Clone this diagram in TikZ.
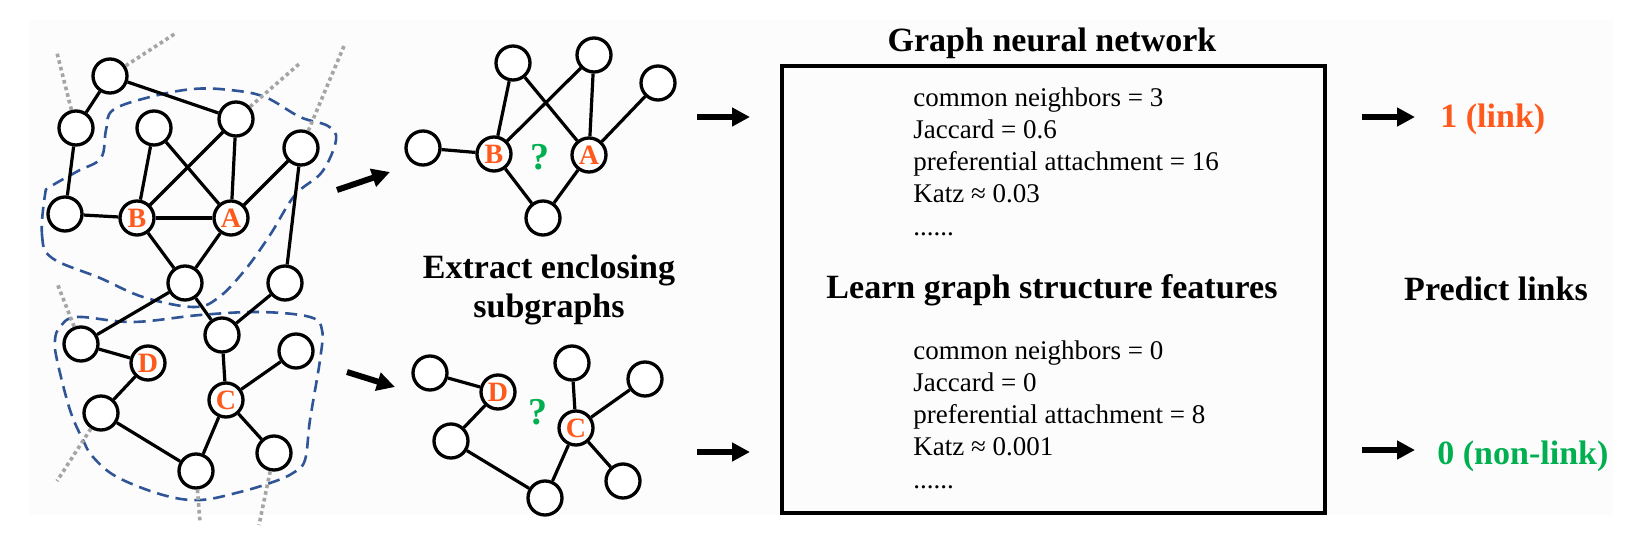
\documentclass[tikz,border=0pt]{standalone}
\usepackage{fontspec}
\setmainfont{Liberation Serif}
\usetikzlibrary{arrows.meta}
\definecolor{lorange}{RGB}{255,90,30}
\definecolor{lgreen}{RGB}{0,176,80}
\definecolor{hullblue}{RGB}{47,85,151}
\definecolor{dotgray}{RGB}{165,165,165}
\definecolor{bgtint}{RGB}{252,252,252}
\begin{document}
\begin{tikzpicture}[x=0.5pt,y=-0.5pt,
 vtx/.style={circle,draw=black,fill=white,line width=1.65pt,minimum size=17pt,inner sep=0pt,font=\fontsize{14}{14}\selectfont\bfseries,text=lorange},
 edge/.style={line width=1.6pt},
 gdot/.style={draw=dotgray,line width=1.8pt,dash pattern=on 1.8pt off 1.6pt},
 hull/.style={draw=hullblue,line width=1.3pt,dash pattern=on 6pt off 3.5pt},
 bigarrow/.style={line width=3pt,-{Triangle[length=9pt,width=9pt]}},
 ttl/.style={font=\fontsize{17}{19.5}\selectfont\bfseries,inner sep=0pt},
 body/.style={font=\fontsize{13.5}{16.1}\selectfont,inner sep=0pt,anchor=base west,align=left},
 qmark/.style={font=\fontsize{19}{19}\selectfont\bfseries,text=lgreen,inner sep=0pt},
 gnnbox/.style={draw=black,line width=1.75pt,inner sep=0pt}
]
\useasboundingbox (0,0) rectangle (1648,535);
\fill[white] (0,0) rectangle (1648,535);
\fill[bgtint] (30,20) rectangle (1613,515);

% enclosing hulls
\draw[hull] plot[smooth cycle,tension=0.6] coordinates {
 (45,195) (42,235) (52,258) (100,278) (143,297) (193,307) (218,298) (245,270)
 (270,235) (295,195) (322,172) (336,140) (328,126) (300,117) (265,97) (230,90)
 (193,89) (150,97) (113,110) (106,130) (101,158) (78,171) (50,187)};
\draw[hull] plot[smooth cycle,tension=0.6] coordinates {
 (60,327) (77,317) (133,322) (200,315) (260,312) (310,317) (322,330) (320,360)
 (310,420) (305,460) (293,473) (273,482) (240,492) (200,500) (163,495) (117,477)
 (93,457) (83,440) (70,410) (57,360) (55,340)};

% left graph
\node[vtx] (n1) at (110,76) {};
\node[vtx] (n2) at (76,128) {};
\node[vtx] (n3) at (154,128) {};
\node[vtx] (n4) at (236,119) {};
\node[vtx] (n5) at (301,148) {};
\node[vtx] (n6) at (65,214) {};
\node[vtx] (B) at (137,218) {B};
\node[vtx] (A) at (231,218) {A};
\node[vtx] (n7) at (185,283) {};
\node[vtx] (n8) at (285,283) {};
\node[vtx] (n9) at (81,344) {};
\node[vtx] (D) at (148,363) {D};
\node[vtx] (n10) at (222,335) {};
\node[vtx] (n11) at (296,351) {};
\node[vtx] (C) at (226,400) {C};
\node[vtx] (n12) at (101,413) {};
\node[vtx] (n13) at (196,471) {};
\node[vtx] (n14) at (274,453) {};

\coordinate (g1) at (176,33);
\coordinate (g2) at (57,53);
\coordinate (g3) at (299,64);
\coordinate (g4) at (344,46);
\coordinate (g5) at (57,283);
\coordinate (g6) at (57,481);
\coordinate (g7) at (200,522);
\coordinate (g8) at (259,525);
\draw[gdot] (n1) -- (g1);
\draw[gdot] (n2) -- (g2);
\draw[gdot] (n4) -- (g3);
\draw[gdot] (n5) -- (g4);
\draw[gdot] (n9) -- (g5);
\draw[gdot] (n12) -- (g6);
\draw[gdot] (n13) -- (g7);
\draw[gdot] (n14) -- (g8);

\draw[edge] (n1) -- (n2);
\draw[edge] (n1) -- (n4);
\draw[edge] (n2) -- (n6);
\draw[edge] (n3) -- (B);
\draw[edge] (n3) -- (A);
\draw[edge] (n4) -- (B);
\draw[edge] (n4) -- (A);
\draw[edge] (n5) -- (A);
\draw[edge] (n5) -- (n8);
\draw[edge] (n6) -- (B);
\draw[edge] (B) -- (A);
\draw[edge] (B) -- (n7);
\draw[edge] (A) -- (n7);
\draw[edge] (n7) -- (n9);
\draw[edge] (n7) -- (n10);
\draw[edge] (n10) -- (n8);
\draw[edge] (n10) -- (C);
\draw[edge] (n9) -- (D);
\draw[edge] (D) -- (n12);
\draw[edge] (n12) -- (n13);
\draw[edge] (n13) -- (C);
\draw[edge] (C) -- (n11);
\draw[edge] (C) -- (n14);

% extraction arrows
\coordinate (a1s) at (337,190);
\coordinate (a1e) at (390,172);
\coordinate (a2s) at (347,372);
\coordinate (a2e) at (395,387);
\draw[bigarrow] (a1s) -- (a1e);
\draw[bigarrow] (a2s) -- (a2e);

% upper subgraph
\node[vtx] (s1) at (423,148) {};
\node[vtx] (sB) at (494,154) {B};
\node[vtx] (sA) at (589,155) {A};
\node[vtx] (s3) at (513,63) {};
\node[vtx] (s4) at (594,55) {};
\node[vtx] (s5) at (658,83) {};
\node[vtx] (s7) at (543,218) {};
\node[qmark] (q1) at (540,157) {?};
\draw[edge] (s1) -- (sB);
\draw[edge] (sB) -- (s3);
\draw[edge] (s3) -- (sA);
\draw[edge] (sB) -- (s4);
\draw[edge] (s4) -- (sA);
\draw[edge] (sA) -- (s5);
\draw[edge] (sB) -- (s7);
\draw[edge] (sA) -- (s7);

% lower subgraph
\node[vtx] (t1) at (430,373) {};
\node[vtx] (tD) at (498,392) {D};
\node[vtx] (tC) at (576,428) {C};
\node[vtx] (t2) at (572,363) {};
\node[vtx] (t3) at (645,379) {};
\node[vtx] (t4) at (623,481) {};
\node[vtx] (t5) at (451,441) {};
\node[vtx] (t6) at (545,498) {};
\node[qmark] (q2) at (538,412) {?};
\draw[edge] (t1) -- (tD);
\draw[edge] (tD) -- (t5);
\draw[edge] (t5) -- (t6);
\draw[edge] (t6) -- (tC);
\draw[edge] (tC) -- (t2);
\draw[edge] (tC) -- (t3);
\draw[edge] (tC) -- (t4);

% (anchor base of a multi-line node = baseline of its last line)
\node[ttl,anchor=base,align=center] (extract) at (549,317) {Extract enclosing\\subgraphs};

% GNN box
\node[gnnbox,minimum width=271.5pt,minimum height=223.5pt] (gnn) at (1053.5,289.5) {};
\node[ttl,anchor=base] (gnntitle) at (1052,52) {Graph neural network};
\node[ttl,anchor=base] (learn) at (1052,298) {Learn graph structure features};
\node[body] (feat1) at (913,235) {common neighbors = 3\\Jaccard = 0.6\\preferential attachment = 16\\Katz ≈ 0.03\\......};
\node[body] (feat2) at (913,488) {common neighbors = 0\\Jaccard = 0\\preferential attachment = 8\\Katz ≈ 0.001\\......};

\coordinate (b1s) at (697,117);
\coordinate (b1e) at (750,117);
\coordinate (b2s) at (697,452);
\coordinate (b2e) at (750,452);
\draw[bigarrow] (b1s) -- (b1e);
\draw[bigarrow] (b2s) -- (b2e);

% predictions
\coordinate (c1s) at (1362,117);
\coordinate (c1e) at (1415,117);
\coordinate (c2s) at (1362,450);
\coordinate (c2e) at (1415,450);
\draw[bigarrow] (c1s) -- (c1e);
\draw[bigarrow] (c2s) -- (c2e);
\node[ttl,anchor=base west,text=lorange] (link) at (1440,127) {1 (link)};
\node[ttl,anchor=base west,text=lgreen] (nonlink) at (1437,464) {0 (non-link)};
\node[ttl,anchor=base] (predict) at (1496,300) {Predict links};
\end{tikzpicture}
\end{document}
